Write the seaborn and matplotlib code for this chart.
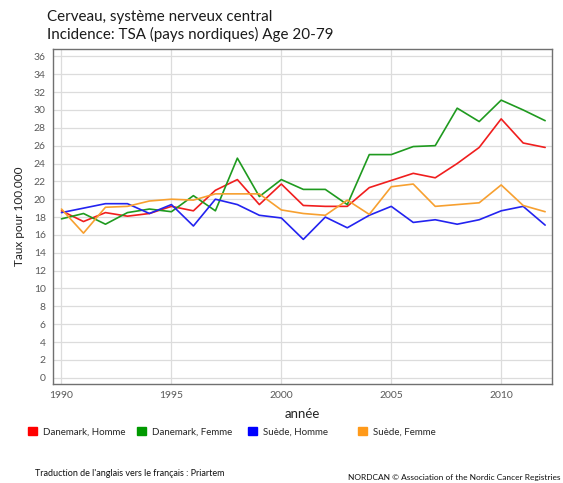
import matplotlib
matplotlib.use("Agg")
import matplotlib.pyplot as plt
import matplotlib.patches as mpatches
import numpy as np
import pandas as pd
import seaborn as sns

# ── données ─────────────────────────────────────────────────────────────────
years = list(range(1990, 2013))
dk_homme = [18.7, 17.5, 18.5, 18.1, 18.4, 19.2, 18.7, 21.0, 22.2, 19.4, 21.7,
            19.3, 19.2, 19.2, 21.3, 22.1, 22.9, 22.4, 24.0, 25.8, 29.0, 26.3, 25.8]
dk_femme = [17.8, 18.4, 17.2, 18.5, 18.9, 18.6, 20.4, 18.7, 24.6, 20.3, 22.2,
            21.1, 21.1, 19.4, 25.0, 25.0, 25.9, 26.0, 30.2, 28.7, 31.1, 30.0, 28.8]
se_homme = [18.5, 19.0, 19.5, 19.5, 18.4, 19.4, 17.0, 20.0, 19.4, 18.2, 17.9,
            15.5, 18.0, 16.8, 18.2, 19.2, 17.4, 17.7, 17.2, 17.7, 18.7, 19.2, 17.1]
se_femme = [18.9, 16.2, 19.1, 19.2, 19.8, 20.0, 19.9, 20.6, 20.6, 20.6, 18.8,
            18.4, 18.2, 19.9, 18.3, 21.4, 21.7, 19.2, 19.4, 19.6, 21.6, 19.3, 18.6]

series = ["Danemark, Homme", "Danemark, Femme", "Suède, Homme", "Suède, Femme"]
colors = ["#f01e1e", "#1f9a1f", "#2323f0", "#f7a030"]
patch_colors = ["#ff0000", "#009900", "#0000ff", "#ff9a1a"]

df = pd.DataFrame({
    "année": years * 4,
    "taux": dk_homme + dk_femme + se_homme + se_femme,
    "serie": [s for s in series for _ in years],
})

# ── style ───────────────────────────────────────────────────────────────────
sns.set_style("white")
plt.rcParams["font.family"] = ["Lato", "DejaVu Sans"]

fig, ax = plt.subplots(figsize=(5.63, 4.83), dpi=100)
fig.subplots_adjust(left=0.0936, right=0.980, top=0.898, bottom=0.205)

sns.lineplot(data=df, x="année", y="taux", hue="serie", hue_order=series,
             palette=colors, linewidth=1.2, legend=False, ax=ax)

ax.set_xlim(1989.6, 2012.3)
ax.set_ylim(-0.7, 36.8)
ax.set_yticks(np.arange(0, 37, 2))
ax.set_xticks(range(1990, 2011, 5))
ax.grid(True, color="#dcdcdc", linewidth=0.9)
ax.set_axisbelow(True)
for sp in ax.spines.values():
    sp.set_color("#707070")
    sp.set_linewidth(1.0)
ax.tick_params(axis="both", direction="out", length=3, width=0.8,
               color="#707070", labelcolor="#5a5a5a", labelsize=7.5, pad=2)
ax.set_xlabel("année", fontsize=9.5, color="#222222", labelpad=6)
ax.set_ylabel("Taux pour 100.000", fontsize=8.5, color="#222222", labelpad=6)

# titre
fig.text(47 / 563, 1 - 21 / 483, "Cerveau, système nerveux central",
         fontsize=10.9, color="#1a1a1a", va="baseline")
fig.text(47 / 563, 1 - 39 / 483, "Incidence: TSA (pays nordiques) Age 20-79",
         fontsize=10.9, color="#1a1a1a", va="baseline")

# légende en colonnes fixes
for i, (s, c) in enumerate(zip(series, patch_colors)):
    x0 = [28, 137, 248, 358][i] / 563
    leg = fig.legend(handles=[mpatches.Patch(color=c, label=s)],
                     loc="center left", bbox_to_anchor=(x0, 1 - 432 / 483),
                     frameon=False, fontsize=7, handlelength=0.9,
                     handleheight=0.9, handletextpad=0.6, borderpad=0,
                     borderaxespad=0)

fig.text(35 / 563, 1 - 476 / 483, "Traduction de l'anglais vers le français : Priartem",
         fontsize=6.5, color="#111111", va="baseline")
fig.text(560 / 563, 1 - 480 / 483, "NORDCAN © Association of the Nordic Cancer Registries",
         fontsize=6.0, color="#111111", va="baseline", ha="right")

fig.savefig("out.png", dpi=100)
